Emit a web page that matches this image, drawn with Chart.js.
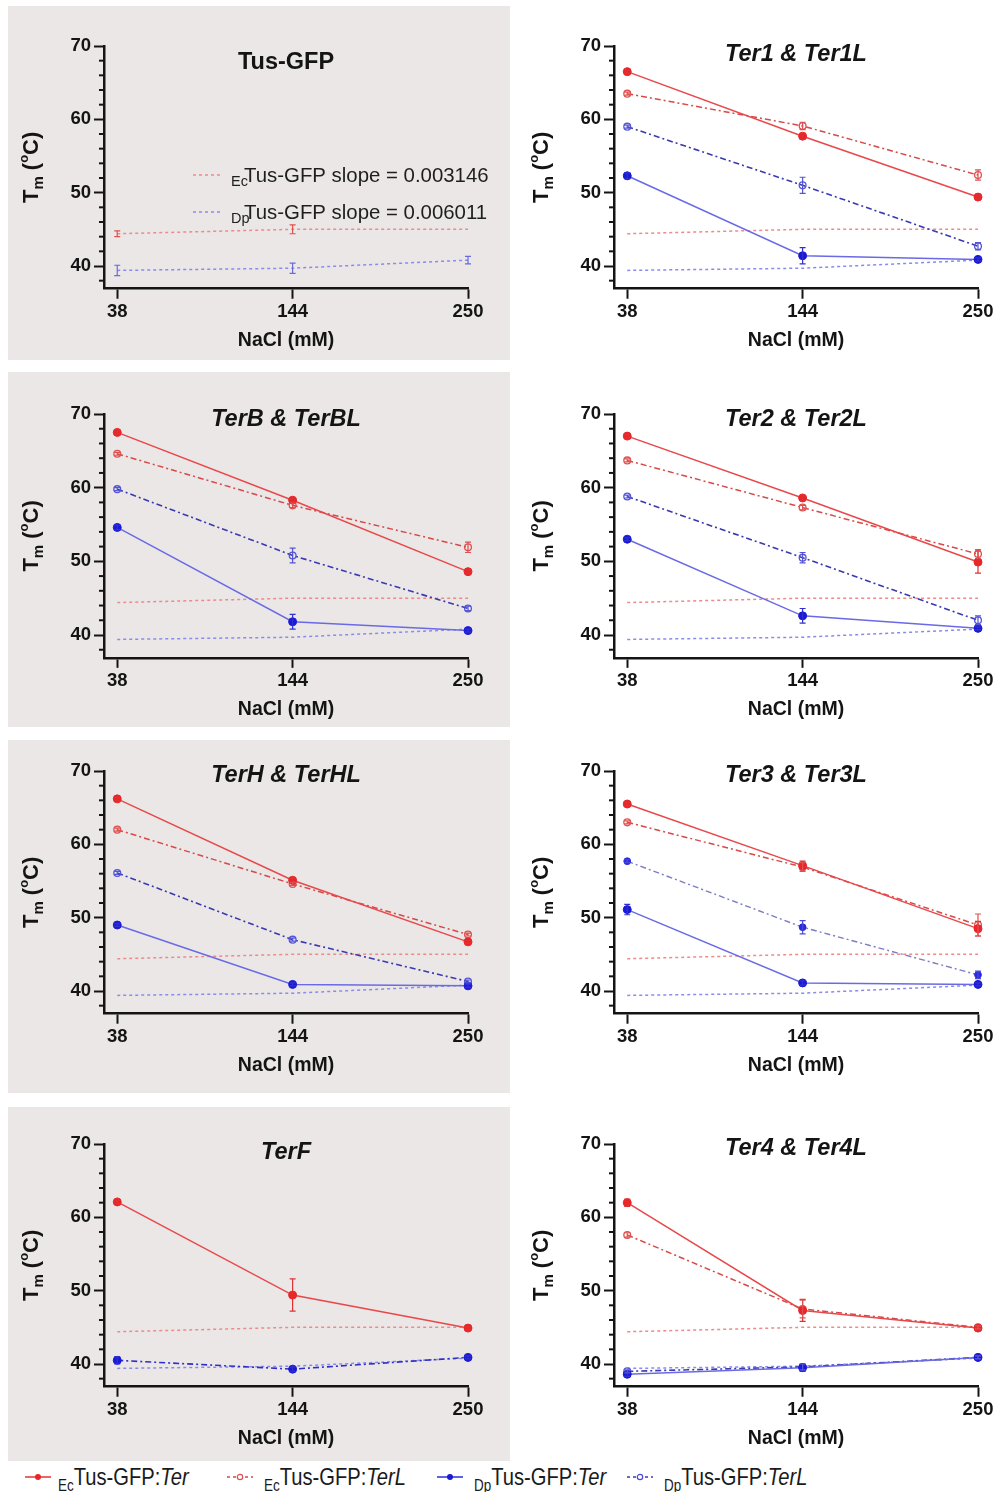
<!DOCTYPE html>
<html>
<head>
<meta charset="utf-8">
<script src="https://cdn.jsdelivr.net/npm/chart.js@4.4.0/dist/chart.umd.min.js"></script>
<style>
  html, body { margin:0; padding:0; }
  body { width:995px; height:1492px; position:relative; overflow:hidden; background:#ffffff;
         font-family:"Liberation Sans", Arial, sans-serif; }
  .bg { position:absolute; background:#ebe7e7; z-index:0; }
  .box { position:absolute; z-index:1; }
  .box canvas { display:block; }
  .leg { position:absolute; z-index:2; top:1463px; height:28px; font-family:"Liberation Sans", Arial, sans-serif;
         font-size:24px; color:#1a1a1a; line-height:28px; white-space:nowrap;
         transform:scaleX(0.84); transform-origin:0 50%; }
  .leg sub { font-size:16px; vertical-align:-6px; line-height:0; }
  .legsym { position:absolute; z-index:2; top:1471px; }
</style>
</head>
<body>
<div class="bg" style="left:8px;top:6px;width:502px;height:354px"></div>
<div class="bg" style="left:8px;top:372px;width:502px;height:355px"></div>
<div class="bg" style="left:8px;top:740px;width:502px;height:353px"></div>
<div class="bg" style="left:8px;top:1107px;width:502px;height:354px"></div>

<div id="charts"></div>

<svg class="legsym" style="left:24px" width="28" height="12"><line x1="1" y1="6" x2="27" y2="6" stroke="#e6403f" stroke-width="1.6"/><circle cx="14" cy="6" r="3" fill="#e8262a"/></svg>
<div class="leg" style="left:58px"><sub>Ec</sub>Tus-GFP:<i>Ter</i></div>
<svg class="legsym" style="left:226px" width="28" height="12"><line x1="1" y1="6" x2="27" y2="6" stroke="#d84848" stroke-width="1.4" stroke-dasharray="3,3"/><circle cx="14" cy="6" r="2.7" fill="#ffffff" stroke="#e05050" stroke-width="1.2"/></svg>
<div class="leg" style="left:264px"><sub>Ec</sub>Tus-GFP:<i>TerL</i></div>
<svg class="legsym" style="left:436px" width="28" height="12"><line x1="1" y1="6" x2="27" y2="6" stroke="#3a3ae0" stroke-width="1.6"/><circle cx="14" cy="6" r="3" fill="#1a1ad6"/></svg>
<div class="leg" style="left:474px"><sub>Dp</sub>Tus-GFP:<i>Ter</i></div>
<svg class="legsym" style="left:626px" width="28" height="12"><line x1="1" y1="6" x2="27" y2="6" stroke="#3c3cb4" stroke-width="1.4" stroke-dasharray="3,3"/><circle cx="14" cy="6" r="2.7" fill="#ffffff" stroke="#4a4ad8" stroke-width="1.2"/></svg>
<div class="leg" style="left:664px"><sub>Dp</sub>Tus-GFP:<i>TerL</i></div>

<script>
// ---------------- DATA ----------------
const nacl = [38, 144, 250];
const xTickLabels = ['38', '144', '250'];
const yTickValues = [38, 40, 42, 44, 46, 48, 50, 52, 54, 56, 58, 60, 62, 64, 66, 68, 70];
const yTickLabels = ['40', '50', '60', '70'];
const xAxisTitle = 'NaCl (mM)';

// Tus-GFP alone (reference, shown in every panel)
const ecTusGFP    = [44.4, 45.0, 45.0];
const ecTusGFPErr = [0.4, 0.6, 0];
const dpTusGFP    = [39.4, 39.7, 40.8];
const dpTusGFPErr = [0.7, 0.7, 0.5];
const ecSlopeText = 'Tus-GFP slope = 0.003146';
const dpSlopeText = 'Tus-GFP slope = 0.006011';

// Ter1 & Ter1L
const ter1EcTer     = [66.5, 57.7, 49.4];
const ter1EcTerErr  = [0.2, 0.4, 0.2];
const ter1EcTerL    = [63.5, 59.1, 52.4];
const ter1EcTerLErr = [0.2, 0.5, 0.7];
const ter1DpTer     = [52.3, 41.4, 40.9];
const ter1DpTerErr  = [0.4, 1.1, 0.2];
const ter1DpTerL    = [59.0, 51.0, 42.7];
const ter1DpTerLErr = [0.2, 1.1, 0.5];

// TerB & TerBL
const terBEcTer     = [67.5, 58.3, 48.6];
const terBEcTerErr  = [0.2, 0.2, 0.2];
const terBEcTerL    = [64.6, 57.6, 51.9];
const terBEcTerLErr = [0.2, 0.3, 0.7];
const terBDpTer     = [54.6, 41.8, 40.6];
const terBDpTerErr  = [0.3, 1.0, 0.2];
const terBDpTerL    = [59.8, 50.8, 43.6];
const terBDpTerLErr = [0.2, 1.0, 0.3];

// Ter2 & Ter2L
const ter2EcTer     = [67.0, 58.6, 49.9];
const ter2EcTerErr  = [0.2, 0.3, 1.5];
const ter2EcTerL    = [63.7, 57.3, 51.0];
const ter2EcTerLErr = [0.2, 0.3, 0.6];
const ter2DpTer     = [53.0, 42.6, 40.9];
const ter2DpTerErr  = [0.2, 1.0, 0.2];
const ter2DpTerL    = [58.8, 50.5, 42.0];
const ter2DpTerLErr = [0.2, 0.7, 0.6];

// TerH & TerHL
const terHEcTer     = [66.2, 55.1, 46.7];
const terHEcTerErr  = [0.2, 0.3, 0.2];
const terHEcTerL    = [62.0, 54.6, 47.7];
const terHEcTerLErr = [0.2, 0.2, 0.2];
const terHDpTer     = [49.0, 40.9, 40.7];
const terHDpTerErr  = [0.2, 0.2, 0.2];
const terHDpTerL    = [56.1, 47.0, 41.3];
const terHDpTerLErr = [0.2, 0.2, 0.2];

// Ter3 & Ter3L
const ter3EcTer     = [65.5, 57.1, 48.5];
const ter3EcTerErr  = [0.2, 0.6, 1.0];
const ter3EcTerL    = [63.0, 56.9, 49.0];
const ter3EcTerLErr = [0.2, 0.6, 1.5];
const ter3DpTer     = [51.1, 41.1, 40.9];
const ter3DpTerErr  = [0.7, 0.3, 0.2];
const ter3DpTerL    = [57.7, 48.7, 42.2];
const ter3DpTerLErr = [0.2, 0.9, 0.5];

// TerF
const terFEcTer     = [62.1, 49.4, 44.9];
const terFEcTerErr  = [0.2, 2.2, 0.2];
const terFDpTer     = [40.5, 39.3, 40.9];
const terFDpTerErr  = [0.5, 0.3, 0.2];

// Ter4 & Ter4L
const ter4EcTer     = [62.0, 47.3, 44.9];
const ter4EcTerErr  = [0.5, 1.5, 0.2];
const ter4EcTerL    = [57.6, 47.5, 45.0];
const ter4EcTerLErr = [0.3, 1.2, 0.2];
const ter4DpTer     = [38.6, 39.5, 40.9];
const ter4DpTerErr  = [0.3, 0.5, 0.2];
const ter4DpTerL    = [39.0, 39.6, 40.9];
const ter4DpTerLErr = [0.2, 0.4, 0.2];

// ---------------- STYLES ----------------
const FONT = '"Liberation Sans", Arial, sans-serif';
const INK = '#141414';
const DASHDOT = [6, 3, 2, 3];
const styles = {
  ecTer:  { borderColor:'#e8484a', borderWidth:1.5, borderDash:[], pointRadius:4, pointBackgroundColor:'#e8262a', pointBorderColor:'#e8262a', pointBorderWidth:1, errColor:'#e03030' },
  ecTerL: { borderColor:'#d64a4a', borderWidth:1.5, borderDash:DASHDOT, pointRadius:3.4, pointBackgroundColor:'rgba(0,0,0,0)', pointBorderColor:'#e05050', pointBorderWidth:1.3, errColor:'#e05050' },
  dpTer:  { borderColor:'#6a6ae6', borderWidth:1.5, borderDash:[], pointRadius:4, pointBackgroundColor:'#1a1ad6', pointBorderColor:'#1a1ad6', pointBorderWidth:1, errColor:'#3030d0' },
  dpTerL: { borderColor:'#3a3ab0', borderWidth:1.6, borderDash:DASHDOT, pointRadius:3.4, pointBackgroundColor:'rgba(0,0,0,0)', pointBorderColor:'#5454d8', pointBorderWidth:1.3, errColor:'#5454d8' },
  dpTerLf:{ borderColor:'#7c7cc4', borderWidth:1.4, borderDash:DASHDOT, pointRadius:3.4, pointBackgroundColor:'#2a2ae0', pointBorderColor:'#2a2ae0', pointBorderWidth:1, errColor:'#4a4ad8' },
  dpTerDD:{ borderColor:'#2e2ec8', borderWidth:1.6, borderDash:DASHDOT, pointRadius:4, pointBackgroundColor:'#1a1ad6', pointBorderColor:'#1a1ad6', pointBorderWidth:1, errColor:'#3030d0' },
  refEc:  { borderColor:'#ee8a8a', borderWidth:1.5, borderDash:[3,3], pointRadius:0, errColor:'#e05050' },
  refDp:  { borderColor:'#8a8aee', borderWidth:1.5, borderDash:[3,3], pointRadius:0, errColor:'#6a6ae0' }
};

// ---------------- LAYOUT ----------------
const colLeft  = [0, 510];
const colWidth = [510, 505];
const axisX    = [104, 614];
const plotW    = 364;
const rowTop    = [0, 365, 733, 1100];
const rowHeight = [365, 368, 367, 362];
const y70Pix    = [46, 414, 771, 1144];
const y40Pix    = [266, 635, 991, 1364];
const yMin = 36.9, yMax = 70, xMin = 30, xMax = 250;
const Y_AXIS_W = 60, X_AXIS_H = 40;

const panels = [
  { col:0, row:0, title:'Tus-GFP', italic:false, titleDy:17, inset:true, refErr:true, series:[] },
  { col:1, row:0, title:'Ter1 & Ter1L', italic:true, titleDy:9, series:[
      ['ecTer', ter1EcTer, ter1EcTerErr], ['ecTerL', ter1EcTerL, ter1EcTerLErr],
      ['dpTer', ter1DpTer, ter1DpTerErr], ['dpTerL', ter1DpTerL, ter1DpTerLErr]] },
  { col:0, row:1, title:'TerB & TerBL', italic:true, titleDy:6, series:[
      ['ecTer', terBEcTer, terBEcTerErr], ['ecTerL', terBEcTerL, terBEcTerLErr],
      ['dpTer', terBDpTer, terBDpTerErr], ['dpTerL', terBDpTerL, terBDpTerLErr]] },
  { col:1, row:1, title:'Ter2 & Ter2L', italic:true, titleDy:6, series:[
      ['ecTer', ter2EcTer, ter2EcTerErr], ['ecTerL', ter2EcTerL, ter2EcTerLErr],
      ['dpTer', ter2DpTer, ter2DpTerErr], ['dpTerL', ter2DpTerL, ter2DpTerLErr]] },
  { col:0, row:2, title:'TerH & TerHL', italic:true, titleDy:5, series:[
      ['ecTer', terHEcTer, terHEcTerErr], ['ecTerL', terHEcTerL, terHEcTerLErr],
      ['dpTer', terHDpTer, terHDpTerErr], ['dpTerL', terHDpTerL, terHDpTerLErr]] },
  { col:1, row:2, title:'Ter3 & Ter3L', italic:true, titleDy:5, series:[
      ['ecTer', ter3EcTer, ter3EcTerErr], ['ecTerL', ter3EcTerL, ter3EcTerLErr],
      ['dpTer', ter3DpTer, ter3DpTerErr], ['dpTerLf', ter3DpTerL, ter3DpTerLErr]] },
  { col:0, row:3, title:'TerF', italic:true, titleDy:9, series:[
      ['ecTer', terFEcTer, terFEcTerErr], ['dpTerDD', terFDpTer, terFDpTerErr]] },
  { col:1, row:3, title:'Ter4 & Ter4L', italic:true, titleDy:5, series:[
      ['ecTer', ter4EcTer, ter4EcTerErr], ['ecTerL', ter4EcTerL, ter4EcTerLErr],
      ['dpTer', ter4DpTer, ter4DpTerErr], ['dpTerL', ter4DpTerL, ter4DpTerLErr]] }
];

function mkDataset(label, vals, errs, styleKey) {
  return Object.assign({
    label: label,
    data: nacl.map((x, i) => ({ x: x, y: vals[i] })),
    errors: errs,
    clip: false,
    tension: 0,
    fill: false
  }, styles[styleKey]);
}

// ---------------- PLUGIN ----------------
const decor = {
  id: 'decor',
  afterDatasetsDraw(chart) {
    const ctx = chart.ctx, xs = chart.scales.x, ys = chart.scales.y;
    chart.data.datasets.forEach((ds) => {
      if (!ds.errors) return;
      ctx.save();
      ctx.strokeStyle = ds.errColor; ctx.lineWidth = 1.2; ctx.setLineDash([]);
      ds.data.forEach((p, i) => {
        const e = ds.errors[i];
        if (!e) return;
        const x = xs.getPixelForValue(p.x);
        const y1 = ys.getPixelForValue(p.y - e), y2 = ys.getPixelForValue(p.y + e);
        ctx.beginPath();
        ctx.moveTo(x, y1); ctx.lineTo(x, y2);
        ctx.moveTo(x - 3, y1); ctx.lineTo(x + 3, y1);
        ctx.moveTo(x - 3, y2); ctx.lineTo(x + 3, y2);
        ctx.stroke();
      });
      ctx.restore();
    });
  },
  afterDraw(chart) {
    const o = chart.options.plugins.decor;
    const ctx = chart.ctx, ca = chart.chartArea, ys = chart.scales.y;
    ctx.save();
    // minor y ticks
    ctx.strokeStyle = INK; ctx.lineWidth = 2;
    yTickValues.forEach(v => {
      if (yTickLabels.includes(String(v))) return;
      const y = ys.getPixelForValue(v);
      ctx.beginPath(); ctx.moveTo(ca.left, y); ctx.lineTo(ca.left - 5, y); ctx.stroke();
    });
    // panel title
    const cx = (ca.left + ca.right) / 2;
    ctx.fillStyle = INK; ctx.textAlign = 'center'; ctx.textBaseline = 'middle';
    ctx.font = (o.italic ? 'italic ' : '') + 'bold 23.5px ' + FONT;
    ctx.fillText(o.title, cx, ca.top + o.titleDy);
    // x axis title
    ctx.font = 'bold 19.5px ' + FONT;
    ctx.fillText(xAxisTitle, cx, ca.bottom + 52);
    // y axis title: T_m (°C)
    const parts = [
      { t:'T', f:'bold 22px ', dy:0 },
      { t:'m', f:'bold 15px ', dy:5 },
      { t:' (', f:'bold 22px ', dy:0 },
      { t:'o', f:'bold 13px ', dy:-10 },
      { t:'C)', f:'bold 22px ', dy:0 }
    ];
    let total = 0;
    parts.forEach(p => { ctx.font = p.f + FONT; p.w = ctx.measureText(p.t).width; total += p.w; });
    ctx.translate(30, (ca.top + ca.bottom) / 2);
    ctx.rotate(-Math.PI / 2);
    ctx.textAlign = 'left'; ctx.textBaseline = 'alphabetic';
    let xx = -total / 2;
    parts.forEach(p => { ctx.font = p.f + FONT; ctx.fillText(p.t, xx, 8 + p.dy); xx += p.w; });
    ctx.restore();

    // inset legend (Tus-GFP panel)
    if (o.inset) {
      ctx.save();
      const rows = [
        { y:175, color: styles.refEc.borderColor, sub:'Ec', text: ecSlopeText },
        { y:212, color: styles.refDp.borderColor, sub:'Dp', text: dpSlopeText }
      ];
      rows.forEach(r => {
        ctx.strokeStyle = r.color; ctx.lineWidth = 1.5; ctx.setLineDash([3, 3]);
        ctx.beginPath(); ctx.moveTo(193, r.y); ctx.lineTo(220, r.y); ctx.stroke();
        ctx.setLineDash([]);
        ctx.fillStyle = '#1e1e1e'; ctx.textAlign = 'left'; ctx.textBaseline = 'alphabetic';
        ctx.font = '14.5px ' + FONT;
        ctx.fillText(r.sub, 231, r.y + 11);
        ctx.font = '20.4px ' + FONT;
        ctx.fillText(r.text, 244, r.y + 7);
      });
      ctx.restore();
    }
  }
};

// ---------------- BUILD ----------------
const holder = document.getElementById('charts');
panels.forEach(p => {
  const bl = colLeft[p.col], bt = rowTop[p.row], bw = colWidth[p.col], bh = rowHeight[p.row];
  const top70 = y70Pix[p.row];
  const axisBottom = top70 + (yMax - yMin) * (y40Pix[p.row] - top70) / 30;
  const pad = {
    left: axisX[p.col] - bl - Y_AXIS_W,
    right: bw - (axisX[p.col] - bl + plotW),
    top: top70 - bt,
    bottom: (bt + bh) - axisBottom - X_AXIS_H
  };
  const div = document.createElement('div');
  div.className = 'box';
  div.style.left = bl + 'px'; div.style.top = bt + 'px';
  div.style.width = bw + 'px'; div.style.height = bh + 'px';
  const cv = document.createElement('canvas');
  cv.width = bw; cv.height = bh;
  cv.style.width = bw + 'px'; cv.style.height = bh + 'px';
  div.appendChild(cv);
  holder.appendChild(div);

  const datasets = p.series.map(s => mkDataset(s[0], s[1], s[2], s[0]));
  datasets.push(mkDataset('EcTus-GFP', ecTusGFP, p.refErr ? ecTusGFPErr : null, 'refEc'));
  datasets.push(mkDataset('DpTus-GFP', dpTusGFP, p.refErr ? dpTusGFPErr : null, 'refDp'));

  new Chart(cv.getContext('2d'), {
    type: 'line',
    data: { datasets: datasets },
    options: {
      responsive: false,
      animation: false,
      devicePixelRatio: 1,
      layout: { padding: pad },
      plugins: {
        legend: { display: false },
        tooltip: { enabled: false },
        title: { display: false },
        decor: { title: p.title, italic: p.italic, titleDy: p.titleDy, inset: !!p.inset }
      },
      scales: {
        x: {
          type: 'linear', min: xMin, max: xMax,
          afterBuildTicks: s => { s.ticks = nacl.map(v => ({ value: v })); },
          afterFit: s => { s.height = X_AXIS_H; },
          border: { display: true, color: INK, width: 2.5 },
          grid: { display: true, drawOnChartArea: false, drawTicks: true, tickLength: 10, tickWidth: 2, tickColor: INK },
          ticks: {
            autoSkip: false, maxRotation: 0, padding: 2, color: INK,
            font: { family: FONT, size: 18.5, weight: 'bold' },
            callback: v => { const i = nacl.indexOf(v); return i >= 0 ? xTickLabels[i] : ''; }
          }
        },
        y: {
          type: 'linear', min: yMin, max: yMax,
          afterBuildTicks: s => { s.ticks = yTickValues.map(v => ({ value: v })); },
          afterFit: s => { s.width = Y_AXIS_W; },
          border: { display: true, color: INK, width: 2.5 },
          grid: { display: true, drawOnChartArea: false, drawTicks: true, tickLength: 10, tickWidth: 2,
                  tickColor: c => (c.tick && yTickLabels.includes(String(c.tick.value))) ? INK : 'rgba(0,0,0,0)' },
          ticks: {
            autoSkip: false, padding: 3, color: INK,
            font: { family: FONT, size: 18.5, weight: 'bold' },
            callback: v => yTickLabels.includes(String(v)) ? String(v) : ''
          }
        }
      }
    },
    plugins: [decor]
  });
});
</script>
</body>
</html>
